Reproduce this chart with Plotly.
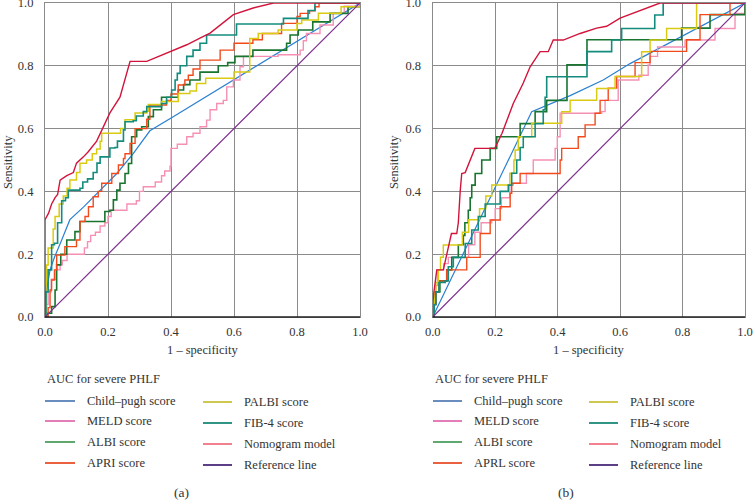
import plotly.graph_objects as go

W, H = 753, 503

# ---------------- data (1 - specificity, sensitivity) ----------------
ticks = [0.0, 0.2, 0.4, 0.6, 0.8, 1.0]
tick_labels = ["0.0", "0.2", "0.4", "0.6", "0.8", "1.0"]

series_names_a = ["Child–pugh score", "MELD score", "ALBI score", "APRI score",
                  "PALBI score", "FIB-4 score", "Nomogram model", "Reference line"]
series_names_b = ["Child–pugh score", "MELD score", "ALBI score", "APRL score",
                  "PALBI score", "FIB-4 score", "Nomogram model", "Reference line"]

a_child = [(0, 0), (0.005, 0.085), (0.016, 0.15), (0.03, 0.19), (0.053, 0.245), (0.079, 0.31),
           (0.122, 0.35), (0.175, 0.404), (0.228, 0.457), (0.28, 0.52), (0.333, 0.593),
           (0.407, 0.638), (0.492, 0.69), (0.556, 0.728), (0.673, 0.80), (0.80, 0.878), (1, 1)]
a_meld = [(0, 0), (0.005, 0.04), (0.01, 0.08), (0.02, 0.12), (0.035, 0.15), (0.048, 0.166),
          (0.055, 0.18), (0.07, 0.2), (0.12, 0.2), (0.125, 0.22), (0.135, 0.24), (0.145, 0.26),
          (0.16, 0.27), (0.175, 0.29), (0.19, 0.30), (0.2, 0.32), (0.21, 0.34), (0.25, 0.34),
          (0.26, 0.36), (0.29, 0.37), (0.30, 0.40), (0.312, 0.415), (0.35, 0.43), (0.37, 0.45),
          (0.38, 0.465), (0.397, 0.48), (0.40, 0.537), (0.42, 0.55), (0.45, 0.574), (0.47, 0.585),
          (0.492, 0.606), (0.513, 0.627), (0.524, 0.66), (0.545, 0.68), (0.566, 0.69),
          (0.577, 0.733), (0.598, 0.755), (0.619, 0.797), (0.63, 0.83), (0.74, 0.835),
          (0.81, 0.85), (0.82, 0.88), (0.83, 0.903), (0.873, 0.93), (0.915, 0.967),
          (0.95, 0.99), (1, 1)]
a_albi = [(0, 0), (0.005, 0.012), (0.021, 0.033), (0.032, 0.086), (0.037, 0.166), (0.05, 0.2),
          (0.069, 0.245), (0.095, 0.272), (0.111, 0.304), (0.185, 0.304), (0.19, 0.336),
          (0.206, 0.34), (0.217, 0.373), (0.228, 0.404), (0.238, 0.426), (0.254, 0.457),
          (0.265, 0.489), (0.275, 0.574), (0.291, 0.596), (0.307, 0.606), (0.328, 0.638),
          (0.344, 0.66), (0.37, 0.70), (0.423, 0.723), (0.44, 0.74), (0.46, 0.755),
          (0.492, 0.78), (0.55, 0.80), (0.58, 0.81), (0.603, 0.83), (0.66, 0.85),
          (0.767, 0.872), (0.778, 0.898), (0.804, 0.914), (0.85, 0.94), (0.905, 0.967),
          (0.962, 0.988), (1, 1)]
a_apri = [(0, 0), (0.01, 0.03), (0.016, 0.086), (0.021, 0.118), (0.03, 0.15), (0.037, 0.197),
          (0.063, 0.224), (0.1, 0.245), (0.111, 0.304), (0.127, 0.32), (0.138, 0.351),
          (0.153, 0.383), (0.169, 0.40), (0.18, 0.426), (0.212, 0.457), (0.233, 0.484),
          (0.249, 0.505), (0.254, 0.52), (0.27, 0.553), (0.286, 0.60), (0.323, 0.63),
          (0.333, 0.675), (0.386, 0.69), (0.40, 0.71), (0.423, 0.739), (0.444, 0.755),
          (0.455, 0.77), (0.47, 0.79), (0.492, 0.818), (0.556, 0.85), (0.60, 0.872),
          (0.656, 0.872), (0.66, 0.883), (0.69, 0.903), (0.751, 0.935), (0.80, 0.957),
          (0.81, 0.967), (0.84, 0.975), (0.857, 0.988), (0.87, 1.0), (1, 1)]
a_palbi = [(0, 0), (0.003, 0.1), (0.005, 0.166), (0.01, 0.22), (0.026, 0.28), (0.032, 0.32),
           (0.045, 0.36), (0.058, 0.385), (0.07, 0.41), (0.079, 0.436), (0.1, 0.46),
           (0.111, 0.49), (0.132, 0.5), (0.15, 0.52), (0.164, 0.535), (0.175, 0.56),
           (0.18, 0.585), (0.24, 0.6), (0.254, 0.628), (0.286, 0.65), (0.323, 0.655),
           (0.328, 0.677), (0.37, 0.686), (0.423, 0.712), (0.46, 0.72), (0.481, 0.744),
           (0.51, 0.76), (0.6, 0.78), (0.65, 0.80), (0.65, 0.887), (0.677, 0.903),
           (0.74, 0.914), (0.80, 0.935), (0.815, 0.946), (0.868, 0.967), (0.94, 0.988), (1, 1)]
a_fib4 = [(0, 0), (0.003, 0.08), (0.01, 0.15), (0.021, 0.23), (0.03, 0.235), (0.04, 0.3),
          (0.053, 0.37), (0.065, 0.38), (0.074, 0.404), (0.111, 0.41), (0.12, 0.43),
          (0.135, 0.44), (0.153, 0.46), (0.165, 0.49), (0.175, 0.51), (0.206, 0.538),
          (0.222, 0.54), (0.23, 0.56), (0.249, 0.596), (0.254, 0.622), (0.28, 0.625),
          (0.29, 0.64), (0.312, 0.654), (0.323, 0.67), (0.37, 0.68), (0.386, 0.70),
          (0.402, 0.723), (0.413, 0.755), (0.42, 0.776), (0.429, 0.8), (0.45, 0.83),
          (0.47, 0.85), (0.492, 0.872), (0.513, 0.898), (0.603, 0.898), (0.608, 0.933),
          (0.751, 0.933), (0.757, 0.951), (0.81, 0.951), (0.835, 0.976), (0.857, 1.0), (1, 1)]
a_nomo = [(0, 0), (0, 0.31), (0.011, 0.33), (0.021, 0.36), (0.032, 0.38), (0.04, 0.39),
          (0.048, 0.436), (0.069, 0.45), (0.09, 0.46), (0.10, 0.49), (0.122, 0.51),
          (0.138, 0.527), (0.164, 0.56), (0.175, 0.585), (0.206, 0.65), (0.238, 0.70),
          (0.27, 0.814), (0.323, 0.814), (0.386, 0.84), (0.45, 0.867), (0.492, 0.888),
          (0.524, 0.904), (0.598, 0.963), (0.661, 0.984), (0.725, 1.0), (1, 1)]
ref_line = [(0, 0), (1, 1)]

b_child = [(0, 0), (0.135, 0.277), (0.2, 0.413), (0.28, 0.574), (0.317, 0.654), (0.44, 0.705),
           (0.546, 0.755), (0.632, 0.807), (0.8, 0.895), (1, 1)]
b_meld = [(0, 0), (0.003, 0.05), (0.01, 0.1), (0.015, 0.15), (0.03, 0.15), (0.035, 0.17),
          (0.05, 0.19), (0.109, 0.19), (0.115, 0.23), (0.13, 0.23), (0.135, 0.27), (0.15, 0.27),
          (0.155, 0.30), (0.189, 0.31), (0.2, 0.345), (0.215, 0.345), (0.22, 0.38),
          (0.24, 0.38), (0.247, 0.42), (0.258, 0.426), (0.30, 0.426), (0.30, 0.457),
          (0.322, 0.457), (0.322, 0.5), (0.392, 0.5), (0.392, 0.537), (0.399, 0.574),
          (0.408, 0.649), (0.541, 0.654), (0.552, 0.69), (0.594, 0.69), (0.594, 0.755),
          (0.648, 0.755), (0.66, 0.77), (0.69, 0.803), (0.696, 0.83), (0.72, 0.86),
          (0.75, 0.86), (0.808, 0.882), (0.893, 0.882), (0.904, 0.919), (0.96, 0.919),
          (0.968, 0.967), (1.0, 1.0)]
b_albi = [(0, 0), (0.003, 0.04), (0.007, 0.04), (0.01, 0.08), (0.023, 0.08), (0.023, 0.115),
          (0.04, 0.115), (0.045, 0.15), (0.06, 0.15), (0.061, 0.19), (0.08, 0.19),
          (0.082, 0.23), (0.095, 0.23), (0.098, 0.26), (0.103, 0.30), (0.114, 0.34),
          (0.12, 0.38), (0.125, 0.42), (0.136, 0.457), (0.155, 0.457), (0.157, 0.5),
          (0.178, 0.5), (0.184, 0.537), (0.2, 0.537), (0.205, 0.574), (0.28, 0.574),
          (0.28, 0.616), (0.328, 0.616), (0.328, 0.654), (0.365, 0.654), (0.365, 0.69),
          (0.43, 0.69), (0.43, 0.803), (0.494, 0.803), (0.494, 0.883), (0.79, 0.883),
          (0.797, 0.92), (0.888, 0.92), (0.888, 0.963), (1.0, 0.963), (1, 1)]
b_apri = [(0, 0), (0.003, 0.04), (0.01, 0.08), (0.02, 0.115), (0.04, 0.115), (0.045, 0.15),
          (0.104, 0.15), (0.109, 0.19), (0.146, 0.19), (0.152, 0.266), (0.18, 0.266),
          (0.184, 0.309), (0.21, 0.309), (0.216, 0.351), (0.245, 0.351), (0.248, 0.394),
          (0.253, 0.426), (0.275, 0.426), (0.28, 0.457), (0.402, 0.457), (0.408, 0.5),
          (0.413, 0.537), (0.461, 0.537), (0.466, 0.574), (0.488, 0.574), (0.488, 0.612),
          (0.514, 0.612), (0.52, 0.649), (0.536, 0.649), (0.536, 0.69), (0.562, 0.69),
          (0.562, 0.729), (0.589, 0.729), (0.589, 0.766), (0.648, 0.766), (0.648, 0.81),
          (0.69, 0.81), (0.696, 0.846), (0.808, 0.846), (0.813, 0.883), (0.856, 0.883),
          (0.856, 0.963), (0.952, 0.963), (0.952, 1.0), (1, 1)]
b_palbi = [(0, 0), (0.005, 0.08), (0.01, 0.11), (0.018, 0.15), (0.025, 0.19), (0.034, 0.229),
           (0.09, 0.229), (0.095, 0.27), (0.11, 0.27), (0.115, 0.31), (0.145, 0.31),
           (0.15, 0.345), (0.165, 0.345), (0.17, 0.385), (0.185, 0.385), (0.189, 0.42),
           (0.242, 0.42), (0.247, 0.458), (0.26, 0.5), (0.264, 0.532), (0.274, 0.574),
           (0.30, 0.574), (0.317, 0.617), (0.407, 0.617), (0.413, 0.654), (0.44, 0.654),
           (0.44, 0.69), (0.525, 0.69), (0.525, 0.728), (0.584, 0.728), (0.584, 0.766),
           (0.669, 0.766), (0.669, 0.845), (0.696, 0.845), (0.696, 0.882), (0.749, 0.882),
           (0.749, 0.919), (0.797, 0.919), (0.845, 0.962), (0.845, 1.0), (1, 1)]
b_fib4 = [(0, 0), (0.005, 0.04), (0.01, 0.08), (0.02, 0.11), (0.04, 0.115), (0.05, 0.16),
          (0.066, 0.19), (0.1, 0.19), (0.104, 0.234), (0.12, 0.234), (0.125, 0.277),
          (0.14, 0.277), (0.146, 0.32), (0.165, 0.32), (0.168, 0.36), (0.21, 0.36),
          (0.216, 0.40), (0.235, 0.40), (0.242, 0.42), (0.253, 0.458), (0.269, 0.5),
          (0.28, 0.54), (0.29, 0.574), (0.325, 0.574), (0.328, 0.616), (0.35, 0.616),
          (0.354, 0.66), (0.36, 0.70), (0.365, 0.733), (0.365, 0.765), (0.494, 0.765),
          (0.494, 0.845), (0.573, 0.845), (0.573, 0.882), (0.605, 0.882), (0.605, 0.919),
          (0.711, 0.919), (0.711, 0.962), (0.738, 0.962), (0.738, 1.0), (1, 1)]
b_nomo = [(0, 0), (0.0, 0.04), (0.004, 0.08), (0.008, 0.11), (0.013, 0.15), (0.034, 0.15),
          (0.045, 0.2), (0.06, 0.266), (0.077, 0.266), (0.082, 0.30), (0.088, 0.40),
          (0.093, 0.457), (0.104, 0.46), (0.119, 0.50), (0.135, 0.537), (0.199, 0.537),
          (0.222, 0.585), (0.258, 0.68), (0.29, 0.745), (0.312, 0.797), (0.344, 0.845),
          (0.37, 0.845), (0.386, 0.882), (0.418, 0.882), (0.472, 0.903), (0.525, 0.92),
          (0.557, 0.926), (0.6, 0.952), (0.642, 0.968), (0.685, 0.984), (0.728, 1.0), (1, 1)]

curves_a = [a_child, a_meld, a_albi, a_apri, a_palbi, a_fib4, a_nomo, ref_line]
curves_b = [b_child, b_meld, b_albi, b_apri, b_palbi, b_fib4, b_nomo, ref_line]

# ---------------- styling ----------------
line_colors = ["#2b80d2", "#f590b4", "#18742f", "#f24a1d", "#d9cb12", "#138c7e", "#d2143b", "#7c2f8e"]
legend_colors = ["#5a80b8", "#e070b0", "#4e9f5e", "#e8502a", "#c9c23e", "#1a8a78", "#f07383", "#4a2a7a"]
shapes_kind = ["linear", "hv", "hv", "hv", "hv", "hv", "linear", "linear"]
line_widths = [1.2, 1.4, 1.6, 1.4, 1.5, 1.6, 1.4, 1.2]

FONT = "Liberation Serif"
TXT = "#333333"
GRID = "#8a8a8a"
FS = 12.5


def px_x(px):
    return px / W


def px_y(py):
    return 1 - py / H


panels = [
    dict(curves=curves_a, names=series_names_a, x0=45, x1=360, label="(a)", label_x=181,
         leg_l=(45, 75, 85), leg_r=(203, 232, 242), ytitle_x=8),
    dict(curves=curves_b, names=series_names_b, x0=432.7, x1=745, label="(b)", label_x=566,
         leg_l=(433, 462, 472), leg_r=(589, 618, 628), ytitle_x=394),
]
y_top, y_bot = 3, 317

fig = go.Figure()
annotations = []
shapes = []

for i, p in enumerate(panels):
    xa = "x" if i == 0 else "x2"
    ya = "y" if i == 0 else "y2"
    for k, c in enumerate(p["curves"]):
        fig.add_trace(go.Scatter(
            x=[v[0] for v in c], y=[v[1] for v in c], mode="lines",
            line=dict(color=line_colors[k], width=line_widths[k], shape=shapes_kind[k]),
            name=p["names"][k], showlegend=False, xaxis=xa, yaxis=ya, hoverinfo="skip",
            cliponaxis=False))

    axis_common = dict(range=[0, 1], tickvals=ticks, ticktext=tick_labels, showgrid=True,
                       gridcolor=GRID, gridwidth=1.2, zeroline=False, automargin=False,
                       tickfont=dict(family=FONT, size=FS, color=TXT), ticks="",
                       fixedrange=True, showline=True, mirror=True, linecolor=GRID,
                       linewidth=1.2, ticklabeloverflow="allow")
    xkey = "xaxis" if i == 0 else "xaxis2"
    ykey = "yaxis" if i == 0 else "yaxis2"
    fig.update_layout(**{
        xkey: dict(axis_common, domain=[px_x(p["x0"]), px_x(p["x1"])], anchor=ya,
                   ticklabelstandoff=3),
        ykey: dict(axis_common, domain=[px_y(y_bot), px_y(y_top)], anchor=xa,
                   ticklabelstandoff=8),
    })
    # darker bottom axis line
    shapes.append(dict(type="line", xref=xa + " domain", yref=ya + " domain",
                       x0=0, x1=1, y0=0, y1=0, line=dict(color="#222222", width=1.4)))

    cx = (p["x0"] + p["x1"]) / 2
    annotations.append(dict(x=px_x(cx), y=px_y(350), xref="paper", yref="paper",
                            text="1 – specificity", showarrow=False,
                            font=dict(family=FONT, size=FS, color=TXT),
                            xanchor="center", yanchor="middle"))
    annotations.append(dict(x=px_x(p["ytitle_x"]), y=px_y(162), xref="paper", yref="paper",
                            text="Sensitivity", showarrow=False, textangle=-90,
                            font=dict(family=FONT, size=FS, color=TXT),
                            xanchor="center", yanchor="middle"))
    annotations.append(dict(x=px_x(p["leg_l"][0]), y=px_y(379), xref="paper", yref="paper",
                            text="AUC for severe PHLF", showarrow=False,
                            font=dict(family=FONT, size=FS, color=TXT),
                            xanchor="left", yanchor="middle"))
    annotations.append(dict(x=px_x(p["label_x"]), y=px_y(492), xref="paper", yref="paper",
                            text=p["label"], showarrow=False,
                            font=dict(family=FONT, size=13.5, color=TXT),
                            xanchor="center", yanchor="middle"))
    rows_l = [401, 421, 442, 463]
    rows_r = [402, 423, 444, 465]
    for k in range(8):
        if k < 4:
            lx0, lx1, tx = p["leg_l"]
            ry = rows_l[k]
        else:
            lx0, lx1, tx = p["leg_r"]
            ry = rows_r[k - 4]
        shapes.append(dict(type="line", xref="paper", yref="paper",
                           x0=px_x(lx0), x1=px_x(lx1), y0=px_y(ry), y1=px_y(ry),
                           line=dict(color=legend_colors[k], width=1.8)))
        annotations.append(dict(x=px_x(tx), y=px_y(ry), xref="paper", yref="paper",
                                text=p["names"][k], showarrow=False,
                                font=dict(family=FONT, size=FS, color=TXT),
                                xanchor="left", yanchor="middle"))

fig.update_layout(template="none", width=W, height=H, margin=dict(l=0, r=0, t=0, b=0, pad=0),
                  paper_bgcolor="white", plot_bgcolor="white",
                  font=dict(family=FONT, size=FS, color=TXT),
                  annotations=annotations, shapes=shapes, showlegend=False)

fig.write_html("out.html", config={"displayModeBar": False},
               post_script="document.body.style.margin='0';document.body.style.overflow='hidden';")
